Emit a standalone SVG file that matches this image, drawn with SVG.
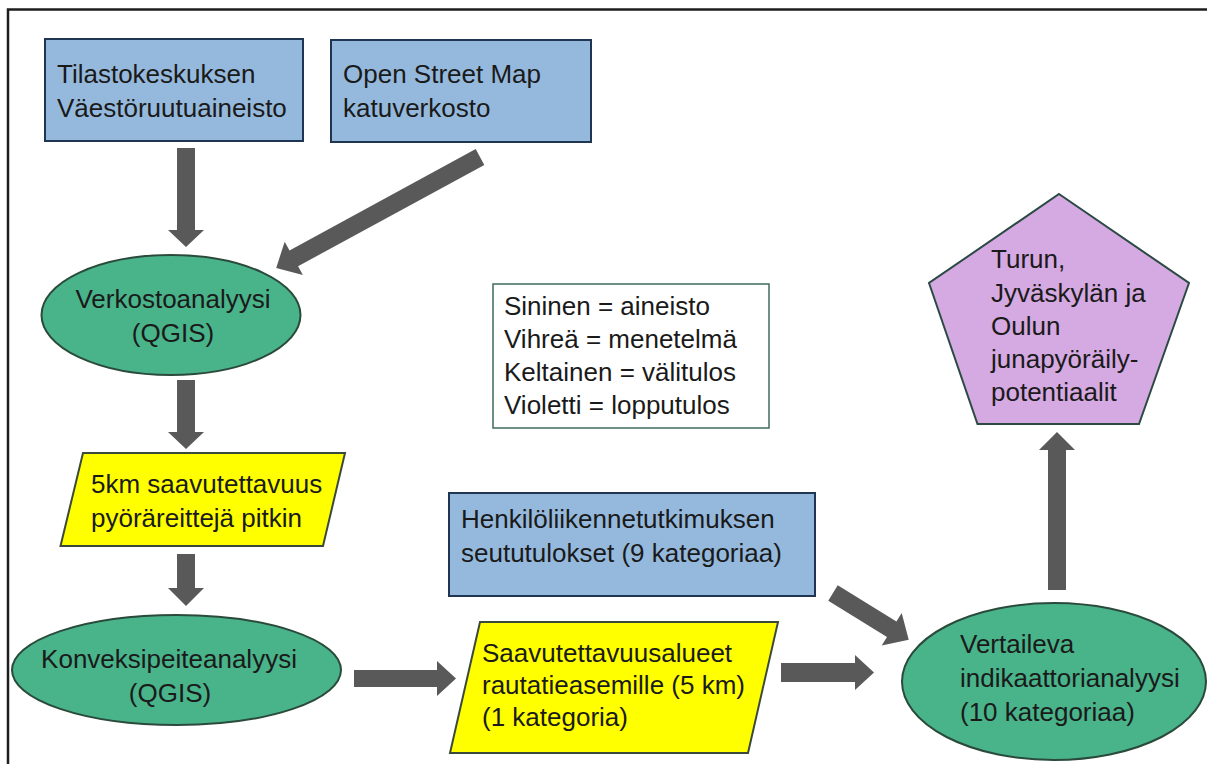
<svg xmlns="http://www.w3.org/2000/svg" width="1207" height="764" viewBox="0 0 1207 764">
<style>
.t{font-family:"Liberation Sans",Arial,Helvetica,sans-serif;font-size:26px;fill:#1a1a1a}
.m{text-anchor:middle}
.blue{fill:#95b9dc;stroke:#1f3552;stroke-width:2}
.green{fill:#49b38a;stroke:#2a4a3c;stroke-width:2}
.yellow{fill:#ffff00;stroke:#3a4a3a;stroke-width:2}
.purple{fill:#d5a9e1;stroke:#2b4a44;stroke-width:2}
.legend{fill:#ffffff;stroke:#3f6b5e;stroke-width:1.5}
.arrow{fill:#595959;stroke:none}
</style>
<rect x="0" y="0" width="1207" height="764" fill="#ffffff"/>
<rect x="8" y="9.5" width="1230" height="790" fill="none" stroke="#1e1e1e" stroke-width="2.5"/>

<g id="connectors">
<polygon class="arrow" points="177,148 195,148 195,230 204,230 186,247 168,230 177,230"/>
<polygon class="arrow" transform="translate(480,157) rotate(151.45)" points="0,-9 212,-9 212,-19 232,0 212,19 212,9 0,9"/>
<polygon class="arrow" points="177,380 195,380 195,432 204,432 186,449 168,432 177,432"/>
<polygon class="arrow" points="177,554 195,554 195,588 204,588 186,606 168,588 177,588"/>
<polygon class="arrow" points="354,670 437,670 437,661 456,678.5 437,696 437,687 354,687"/>
<polygon class="arrow" points="781,663 855,663 855,655 874,672.5 855,690 855,682 781,682"/>
<polygon class="arrow" transform="translate(833,593) rotate(31.7)" points="0,-9 69,-9 69,-19 89,0 69,19 69,9 0,9"/>
<polygon class="arrow" points="1048,590 1066,590 1066,450 1075,450 1057,432 1039,450 1048,450"/>
</g>

<g id="tilastokeskus">
<rect class="blue" x="45" y="39" width="258" height="102"/>
<text class="t" x="57" y="83">Tilastokeskuksen</text>
<text class="t" x="57" y="117">Väestöruutuaineisto</text>
</g>

<g id="osm">
<rect class="blue" x="331" y="40" width="260" height="102"/>
<text class="t" x="343" y="83">Open Street Map</text>
<text class="t" x="343" y="117">katuverkosto</text>
</g>

<g id="verkostoanalyysi">
<ellipse class="green" cx="171" cy="315" rx="129.5" ry="60"/>
<text class="t m" x="173" y="308">Verkostoanalyysi</text>
<text class="t m" x="173" y="342">(QGIS)</text>
</g>

<g id="saavutettavuus5km">
<polygon class="yellow" points="83,453 345,453 323,546 60.5,546"/>
<text class="t" x="91" y="493">5km saavutettavuus</text>
<text class="t" x="91" y="527">pyöräreittejä pitkin</text>
</g>

<g id="konveksipeite">
<ellipse class="green" cx="176.5" cy="670" rx="164.5" ry="55"/>
<text class="t m" x="169" y="668">Konveksipeiteanalyysi</text>
<text class="t m" x="170" y="702">(QGIS)</text>
</g>

<g id="legend">
<rect class="legend" x="493" y="284" width="276" height="144"/>
<text class="t" x="504" y="315">Sininen = aineisto</text>
<text class="t" x="504" y="348">Vihreä = menetelmä</text>
<text class="t" x="504" y="381">Keltainen = välitulos</text>
<text class="t" x="504" y="414">Violetti = lopputulos</text>
</g>

<g id="henkiloliikenne">
<rect class="blue" x="449" y="493" width="366" height="103"/>
<text class="t" x="461" y="528">Henkilöliikennetutkimuksen</text>
<text class="t" x="461" y="562">seututulokset (9 kategoriaa)</text>
</g>

<g id="saavutettavuusalueet">
<polygon class="yellow" points="480,622 778,622 748,753 450,753"/>
<text class="t" x="482" y="662">Saavutettavuusalueet</text>
<text class="t" x="482" y="694">rautatieasemille (5 km)</text>
<text class="t" x="482" y="726">(1 kategoria)</text>
</g>

<g id="vertaileva">
<ellipse class="green" cx="1054" cy="681.5" rx="152" ry="78.5"/>
<text class="t" x="960" y="653">Vertaileva</text>
<text class="t" x="960" y="687">indikaattorianalyysi</text>
<text class="t" x="960" y="721">(10 kategoriaa)</text>
</g>

<g id="potentiaalit">
<polygon class="purple" points="1059,194 1189,283 1139,424 977.5,424 929,283"/>
<text class="t" x="991" y="268">Turun,</text>
<text class="t" x="991" y="302">Jyväskylän ja</text>
<text class="t" x="991" y="335">Oulun</text>
<text class="t" x="991" y="368">junapyöräily-</text>
<text class="t" x="991" y="401">potentiaalit</text>
</g>
</svg>
